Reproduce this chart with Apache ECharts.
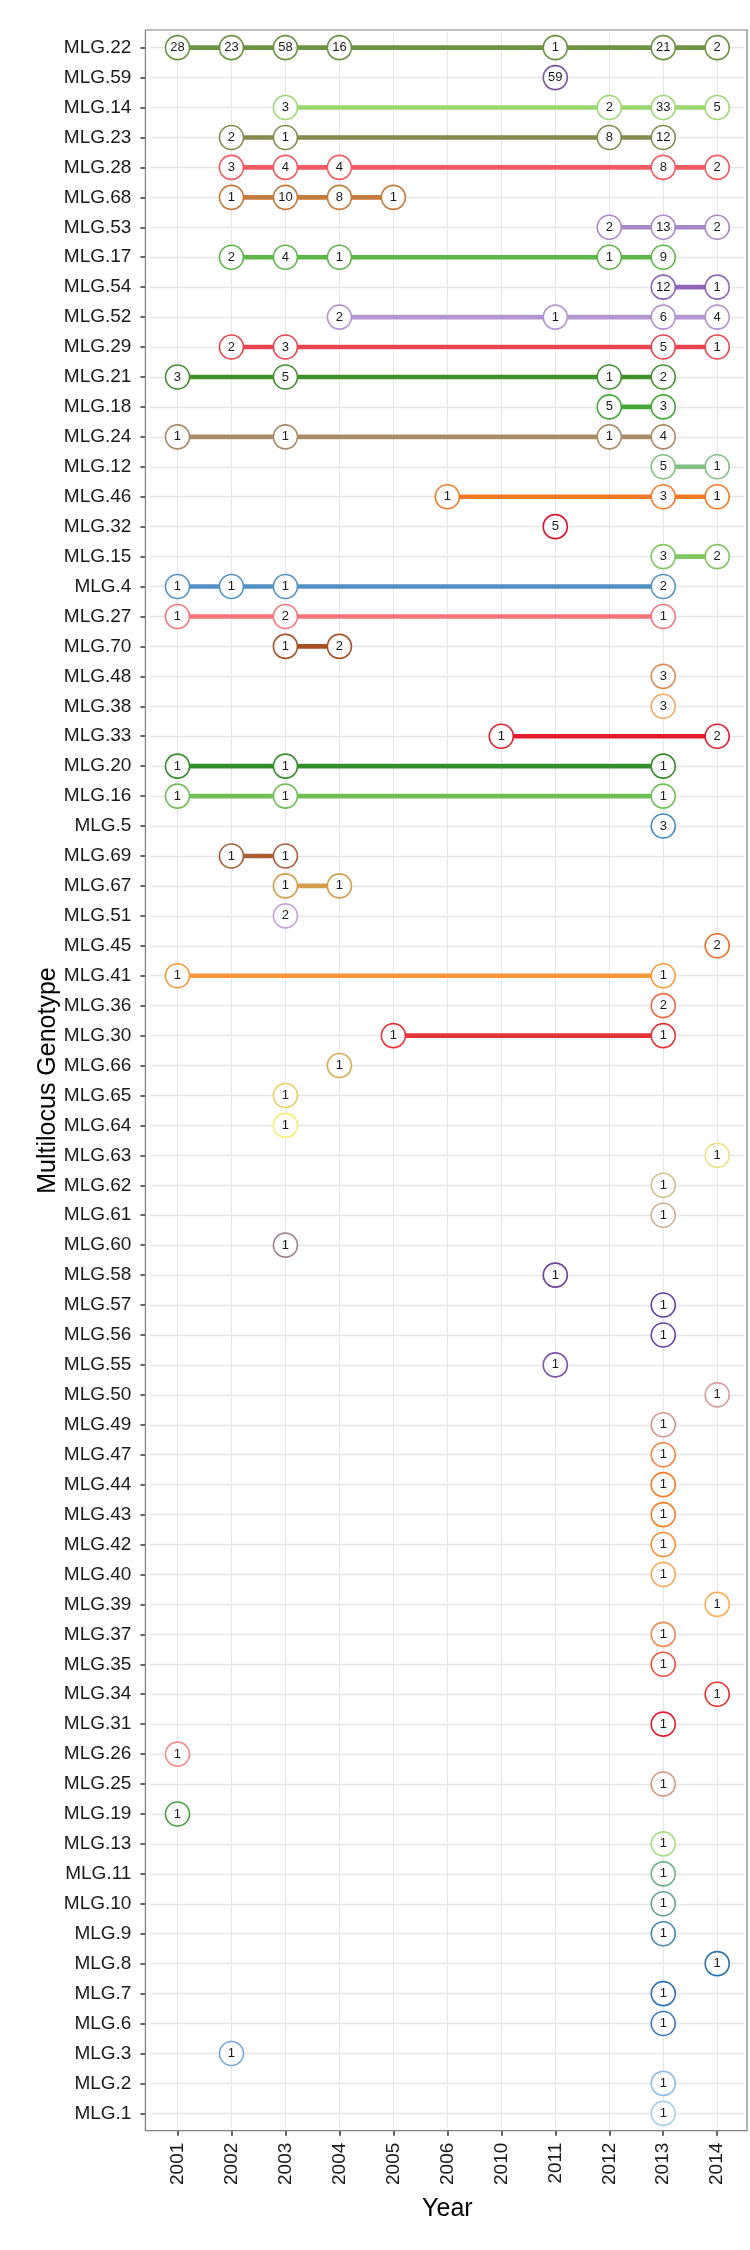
<!DOCTYPE html>
<html>
<head>
<meta charset="utf-8">
<script src="https://cdn.jsdelivr.net/npm/echarts@6/dist/echarts.min.js"></script>
<style>
html,body{margin:0;padding:0;background:#fff;}
#chart{width:750px;height:2250px;}
</style>
</head>
<body>
<div id="chart"></div>
<script>
// ---- data ----
const years = ['2001','2002','2003','2004','2005','2006','2010','2011','2012','2013','2014'];

const genotypes = ['MLG.22','MLG.59','MLG.14','MLG.23','MLG.28','MLG.68','MLG.53','MLG.17','MLG.54','MLG.52',
  'MLG.29','MLG.21','MLG.18','MLG.24','MLG.12','MLG.46','MLG.32','MLG.15','MLG.4','MLG.27',
  'MLG.70','MLG.48','MLG.38','MLG.33','MLG.20','MLG.16','MLG.5','MLG.69','MLG.67','MLG.51',
  'MLG.45','MLG.41','MLG.36','MLG.30','MLG.66','MLG.65','MLG.64','MLG.63','MLG.62','MLG.61',
  'MLG.60','MLG.58','MLG.57','MLG.56','MLG.55','MLG.50','MLG.49','MLG.47','MLG.44','MLG.43',
  'MLG.42','MLG.40','MLG.39','MLG.37','MLG.35','MLG.34','MLG.31','MLG.26','MLG.25','MLG.19',
  'MLG.13','MLG.11','MLG.10','MLG.9','MLG.8','MLG.7','MLG.6','MLG.3','MLG.2','MLG.1'];

const genotypeColors = ['#6b9343','#7a559b','#9ad672','#848a4e','#ef5b60','#c57b3c','#a887c6','#5cb547','#8d66b6','#b394cf',
  '#e8434f','#408f2c','#47a83a','#a88c66','#80bf82','#f07826','#d9112f','#7fc663','#5192c2','#f27479',
  '#a54f24','#df8b58','#f9a65c','#e31a2a','#338d2a','#70bf59','#3f87c5','#a95e35','#d49d4d','#c4a3d3',
  '#ec6a1e','#f99838','#f06a43','#e53439','#d9aa4d','#e9cd5e','#f6ee72','#ebe38b','#cfc08a','#c8af95',
  '#a28395','#6b3f9b','#5f3c9f','#6742a4','#7a52a9','#d89ba2','#d59387','#f1803c','#f47d22','#f58024',
  '#f88b2c','#fca352','#fcab56','#f38649','#ef4e37','#eb2c2e','#e41c2d','#f58d8e','#d5957c','#42a23c',
  '#a8dc85','#71b08c','#60a090','#418aa9','#2c71a9','#2d70b6','#3b7ab9','#72aad7','#92bee1','#a8cfe7'];

// [genotype, year, count]
const counts = [
  ['MLG.22','2001',28],['MLG.22','2002',23],['MLG.22','2003',58],['MLG.22','2004',16],['MLG.22','2011',1],['MLG.22','2013',21],['MLG.22','2014',2],
  ['MLG.59','2011',59],
  ['MLG.14','2003',3],['MLG.14','2012',2],['MLG.14','2013',33],['MLG.14','2014',5],
  ['MLG.23','2002',2],['MLG.23','2003',1],['MLG.23','2012',8],['MLG.23','2013',12],
  ['MLG.28','2002',3],['MLG.28','2003',4],['MLG.28','2004',4],['MLG.28','2013',8],['MLG.28','2014',2],
  ['MLG.68','2002',1],['MLG.68','2003',10],['MLG.68','2004',8],['MLG.68','2005',1],
  ['MLG.53','2012',2],['MLG.53','2013',13],['MLG.53','2014',2],
  ['MLG.17','2002',2],['MLG.17','2003',4],['MLG.17','2004',1],['MLG.17','2012',1],['MLG.17','2013',9],
  ['MLG.54','2013',12],['MLG.54','2014',1],
  ['MLG.52','2004',2],['MLG.52','2011',1],['MLG.52','2013',6],['MLG.52','2014',4],
  ['MLG.29','2002',2],['MLG.29','2003',3],['MLG.29','2013',5],['MLG.29','2014',1],
  ['MLG.21','2001',3],['MLG.21','2003',5],['MLG.21','2012',1],['MLG.21','2013',2],
  ['MLG.18','2012',5],['MLG.18','2013',3],
  ['MLG.24','2001',1],['MLG.24','2003',1],['MLG.24','2012',1],['MLG.24','2013',4],
  ['MLG.12','2013',5],['MLG.12','2014',1],
  ['MLG.46','2006',1],['MLG.46','2013',3],['MLG.46','2014',1],
  ['MLG.32','2011',5],
  ['MLG.15','2013',3],['MLG.15','2014',2],
  ['MLG.4','2001',1],['MLG.4','2002',1],['MLG.4','2003',1],['MLG.4','2013',2],
  ['MLG.27','2001',1],['MLG.27','2003',2],['MLG.27','2013',1],
  ['MLG.70','2003',1],['MLG.70','2004',2],
  ['MLG.48','2013',3],
  ['MLG.38','2013',3],
  ['MLG.33','2010',1],['MLG.33','2014',2],
  ['MLG.20','2001',1],['MLG.20','2003',1],['MLG.20','2013',1],
  ['MLG.16','2001',1],['MLG.16','2003',1],['MLG.16','2013',1],
  ['MLG.5','2013',3],
  ['MLG.69','2002',1],['MLG.69','2003',1],
  ['MLG.67','2003',1],['MLG.67','2004',1],
  ['MLG.51','2003',2],
  ['MLG.45','2014',2],
  ['MLG.41','2001',1],['MLG.41','2013',1],
  ['MLG.36','2013',2],
  ['MLG.30','2005',1],['MLG.30','2013',1],
  ['MLG.66','2004',1],
  ['MLG.65','2003',1],
  ['MLG.64','2003',1],
  ['MLG.63','2014',1],
  ['MLG.62','2013',1],
  ['MLG.61','2013',1],
  ['MLG.60','2003',1],
  ['MLG.58','2011',1],
  ['MLG.57','2013',1],
  ['MLG.56','2013',1],
  ['MLG.55','2011',1],
  ['MLG.50','2014',1],
  ['MLG.49','2013',1],
  ['MLG.47','2013',1],
  ['MLG.44','2013',1],
  ['MLG.43','2013',1],
  ['MLG.42','2013',1],
  ['MLG.40','2013',1],
  ['MLG.39','2014',1],
  ['MLG.37','2013',1],
  ['MLG.35','2013',1],
  ['MLG.34','2014',1],
  ['MLG.31','2013',1],
  ['MLG.26','2001',1],
  ['MLG.25','2013',1],
  ['MLG.19','2001',1],
  ['MLG.13','2013',1],
  ['MLG.11','2013',1],
  ['MLG.10','2013',1],
  ['MLG.9','2013',1],
  ['MLG.8','2014',1],
  ['MLG.7','2013',1],
  ['MLG.6','2013',1],
  ['MLG.3','2002',1],
  ['MLG.2','2013',1],
  ['MLG.1','2013',1]
];

// ---- chart ----
const FONT = '"Liberation Sans", Arial, Helvetica, sans-serif';
const chart = echarts.init(document.getElementById('chart'), null, {renderer: 'canvas'});

const series = genotypes.map(function (g, i) {
  const pts = counts.filter(function (c) { return c[0] === g; })
    .sort(function (a, b) { return years.indexOf(a[1]) - years.indexOf(b[1]); })
    .map(function (c) { return [c[1], c[0], c[2]]; });
  const col = genotypeColors[i];
  return {
    type: 'line',
    name: g,
    data: pts,
    encode: {x: 0, y: 1},
    symbol: 'circle',
    symbolSize: 24,
    showSymbol: true,
    showAllSymbol: true,
    clip: false,
    lineStyle: {color: col, width: 4.6},
    itemStyle: {color: '#ffffff', borderColor: col, borderWidth: 1.6},
    label: {
      show: true, position: 'inside', fontSize: 13, color: '#1a1a1a', fontFamily: FONT,
      formatter: function (p) { return String(p.value[2]); }
    },
    emphasis: {disabled: true},
    silent: true,
    z: 3
  };
});

const option = {
  animation: false,
  backgroundColor: '#ffffff',
  grid: {left: 150.5, right: 5.8, top: 32.7, bottom: 121.7, containLabel: false},
  xAxis: {
    type: 'category',
    data: years,
    boundaryGap: true,
    offset: 2.4,
    name: 'Year',
    nameLocation: 'middle',
    nameGap: 66,
    nameMoveOverlap: false,
    nameTextStyle: {fontSize: 25, color: '#000', fontFamily: FONT},
    axisLine: {show: false},
    axisTick: {show: true, alignWithLabel: true, length: 5, interval: 0, lineStyle: {color: '#333', width: 1.5}},
    axisLabel: {show: true, interval: 0, rotate: 90, margin: 12, fontSize: 19, color: '#1a1a1a', fontFamily: FONT},
    splitLine: {show: true, alignWithLabel: true, interval: 0, lineStyle: {color: '#e6e6e6', width: 1}}
  },
  yAxis: {
    type: 'category',
    data: genotypes,
    inverse: true,
    boundaryGap: true,
    offset: 5.1,
    name: 'Multilocus Genotype',
    nameLocation: 'middle',
    nameGap: 85,
    nameMoveOverlap: false,
    nameTextStyle: {fontSize: 25, color: '#000', fontFamily: FONT},
    axisLine: {show: false},
    axisTick: {show: true, alignWithLabel: true, length: 5, interval: 0, lineStyle: {color: '#333', width: 1.5}},
    axisLabel: {show: true, interval: 0, margin: 14, fontSize: 19, color: '#1a1a1a', fontFamily: FONT},
    splitLine: {show: true, alignWithLabel: true, interval: 0, lineStyle: {color: '#e6e6e6', width: 1.3}}
  },
  graphic: [{
    type: 'rect',
    silent: true,
    z: 100,
    shape: {x: 145.4, y: 30, width: 601.6, height: 2100.7},
    style: {fill: null, stroke: '#7f7f7f', lineWidth: 1.2}
  }],
  series: series
};

chart.setOption(option);
</script>
</body>
</html>
